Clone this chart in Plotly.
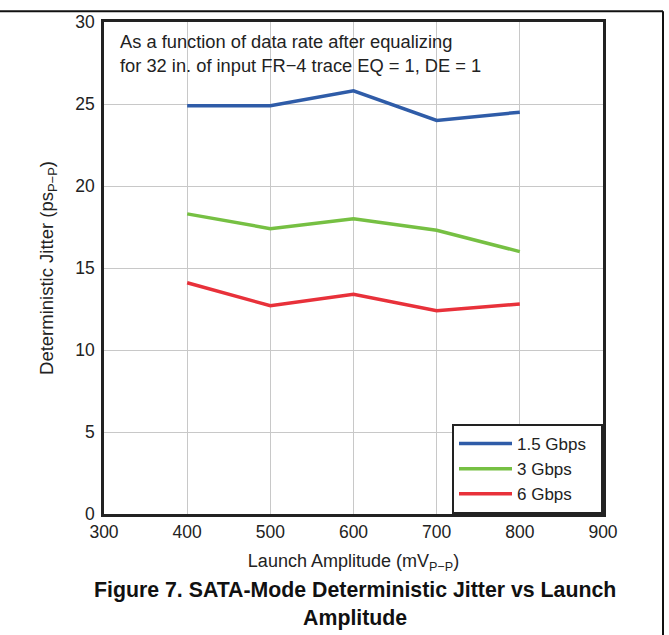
import plotly.graph_objects as go

amplitude = [400, 500, 600, 700, 800]
jitter_1_5 = [24.9, 24.9, 25.8, 24.0, 24.5]
jitter_3 = [18.3, 17.4, 18.0, 17.3, 16.0]
jitter_6 = [14.1, 12.7, 13.4, 12.4, 12.8]
series_names = ["1.5 Gbps", "3 Gbps", "6 Gbps"]
colors = ["#2f5ca8", "#76c043", "#e8313a"]

W, H = 669, 635
L, R, T, B = 104, 66, 14, 121

fig = go.Figure()
for name, vals, c in zip(series_names, [jitter_1_5, jitter_3, jitter_6], colors):
    fig.add_trace(go.Scatter(x=amplitude, y=vals, mode="lines", name=name + "\u00a0\u00a0",
                             line=dict(color=c, width=3.5)))

font = "Arial, Liberation Sans, sans-serif"
pw = W - L - R
ph = H - T - B

def px(x):
    return (x - L) / pw

def py(y):
    return (H - B - y) / ph

fig.update_layout(
    width=W, height=H,
    margin=dict(l=L, r=R, t=T, b=B),
    plot_bgcolor="white", paper_bgcolor="white",
    font=dict(family=font, size=17, color="#222"),
    showlegend=True,
    legend=dict(x=1, y=0, xanchor="right", yanchor="bottom",
                bgcolor="white", bordercolor="#222", borderwidth=2,
                font=dict(size=17, color="#222"),
                itemwidth=53, tracegroupgap=0),
    xaxis=dict(range=[300, 900], tickvals=[300, 400, 500, 600, 700, 800, 900],
               showgrid=True, gridcolor="#c8c8c8", gridwidth=1,
               showline=True, linecolor="#222", linewidth=2.5, mirror=True,
               zeroline=False, ticks="", tickfont=dict(size=17.5, color="#222"),
               title=dict(text="Launch Amplitude (mV<sub>P−P</sub>)",
                          font=dict(size=18, color="#222"), standoff=14)),
    yaxis=dict(range=[0, 30], tickvals=[0, 5, 10, 15, 20, 25, 30],
               showgrid=True, gridcolor="#c8c8c8", gridwidth=1,
               showline=True, linecolor="#222", linewidth=2.5, mirror=True,
               zeroline=False, ticks="", tickfont=dict(size=17.5, color="#222"),
               ticklabelstandoff=3,
               title=dict(text="Deterministic Jitter (ps<sub>P−P</sub>)",
                          font=dict(size=18.5, color="#222"), standoff=17)),
    annotations=[
        dict(text="As a function of data rate after equalizing<br>for 32 in. of input FR−4 trace EQ = 1, DE = 1",
             xref="paper", yref="paper", x=px(118), y=py(21), xanchor="left", yanchor="top",
             align="left", showarrow=False, font=dict(size=18.3, color="#222")),
        dict(text="<b>Figure 7. SATA-Mode Deterministic Jitter vs Launch<br>Amplitude</b>",
             xref="paper", yref="paper", x=px(355), y=py(577), xanchor="center", yanchor="top",
             align="center", showarrow=False, font=dict(size=21.3, color="#111")),
    ],
    shapes=[
        dict(type="line", xref="paper", yref="paper", x0=px(0), x1=px(663), y0=py(3), y1=py(3),
             line=dict(color="#111", width=2)),
        dict(type="line", xref="paper", yref="paper", x0=px(663), x1=px(663), y0=py(3), y1=py(640),
             line=dict(color="#111", width=2)),
    ],
)

fig.write_html("out.html", post_script="document.body.style.margin='0';",
               config={"displayModeBar": False})
